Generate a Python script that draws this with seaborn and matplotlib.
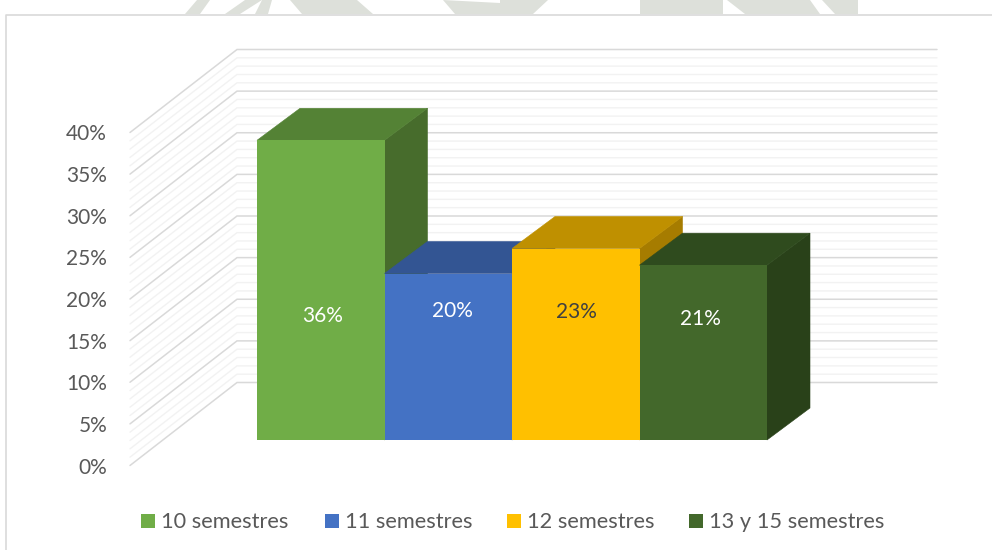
import matplotlib
matplotlib.use('Agg')
import matplotlib.pyplot as plt
import pandas as pd
import seaborn as sns
from matplotlib.patches import Polygon
from matplotlib.ticker import PercentFormatter

categories = ['10 semestres', '11 semestres', '12 semestres', '13 y 15 semestres']
values = [36, 20, 23, 21]
front_colors = ['#70AD47', '#4472C4', '#FFC000', '#43682B']
top_colors = ['#548235', '#335593', '#BF9000', '#2F4B1E']
side_colors = ['#476C2C', '#29447A', '#A67C00', '#294119']
label_colors = ['white', 'white', '#404040', 'white']
y_ticks = list(range(0, 45, 5))
grid_levels = list(range(0, 41))

W, H = 992, 550
# pixels per category / per percentage point, bars start at (257, 440)
px_x, px_y = 127.5, 8.325
x0_px, y0_px = 257, 440

# page watermark showing above the chart frame, rough shapes
watermark = [
    [(185, 14), (200, 14), (210, 0), (197, 0)],
    [(225, 14), (240, 14), (262, 0), (245, 0)],
    [(255, 14), (268, 14), (272, 0), (262, 0)],
    [(302, 14), (373, 14), (357, 0), (290, 0)],
    [(455, 14), (500, 14), (500, 3), (443, 0)],
    [(500, 14), (533, 14), (548, 0), (500, 0)],
    [(640, 14), (723, 14), (723, 0), (640, 0)],
    [(745, 14), (820, 14), (810, 0), (727, 0)],
    [(835, 14), (858, 14), (858, 0), (822, 0)],
]


def dx(px):
    return px / px_x


def dy(px):
    return px / px_y


sns.set_theme(style='white')
plt.rcParams['font.family'] = ['Lato', 'DejaVu Sans']

fig = plt.figure(figsize=(W / 100, H / 100), dpi=100)
ax = fig.add_axes([0, 0, 1, 1])

df = pd.DataFrame({'semestres': categories, 'pct': values})
sns.barplot(
    data=df, x='semestres', y='pct', hue='semestres',
    palette=front_colors, width=1, saturation=1, dodge=False,
    legend=True, ax=ax, linewidth=0,
)

left = -0.5
ax.set_xlim(left - dx(x0_px), left + dx(W - x0_px))
ax.set_ylim(-dy(H - y0_px), dy(y0_px))
ax.axis('off')

# walls of the 3d box
wall_front_x = left - dx(127)
wall_back_x = left - dx(20)
wall_right_x = left + dx(680)
wall_front_y = dy(-25.5)
wall_back_y = dy(57.5)
for level in grid_levels:
    major = level % 5 == 0
    color = '#D9D9D9' if major else '#F2F2F2'
    lw = 1.1 if major else 1.0
    ax.plot([wall_front_x, wall_back_x, wall_right_x],
            [wall_front_y + level, wall_back_y + level, wall_back_y + level],
            color=color, lw=lw, zorder=2 if major else 1, solid_joinstyle='miter')

# side and top faces, left to right so each bar covers the previous one
depth_x, depth_y = dx(43), dy(32)
for i, (val, side, top) in enumerate(zip(values, side_colors, top_colors)):
    r, l = i + 0.5, i - 0.5
    ax.add_patch(Polygon([(r, 0), (r + depth_x, depth_y), (r + depth_x, val + depth_y), (r, val)],
                         closed=True, fc=side, ec=side, lw=0.4, zorder=3 + i * 2))
    ax.add_patch(Polygon([(l, val), (l + depth_x, val + depth_y), (r + depth_x, val + depth_y), (r, val)],
                         closed=True, fc=top, ec=top, lw=0.4, zorder=4 + i * 2))

for i, bar in enumerate(ax.patches[:len(values)]):
    bar.set_zorder(4.5 + i * 2)

# data labels, hand placed in the original
label_x = [322.5, 452, 576, 700.5]
label_y = [316, 311, 312, 319]
for val, lx, ly, c in zip(values, label_x, label_y, label_colors):
    ax.text(left + dx(lx - x0_px), dy(y0_px - ly), f'{val}%', color=c, fontsize=15,
            ha='center', va='center', zorder=20)

# legend
handles, labels = ax.get_legend_handles_labels()
ax.get_legend().remove()
leg_x = [141, 325, 507, 689]
for h, l, lx in zip(handles, labels, leg_x):
    fig.legend([h], [l], loc='center left', bbox_to_anchor=(lx / W, 1 - 522.5 / H),
               frameon=False, fontsize=15.7, handlelength=0.64, handleheight=0.64,
               handletextpad=0.28, labelcolor='#595959', borderpad=0, borderaxespad=0)

# percent axis sits on the front edge of the left wall
tick_ax = fig.add_axes([130 / W, 1 - 465.5 / H, 10 / W, 333 / H], facecolor='none')
tick_ax.set_ylim(0, 40)
tick_ax.set_yticks(y_ticks)
tick_ax.yaxis.set_major_formatter(PercentFormatter(decimals=0))
tick_ax.set_xticks([])
tick_ax.tick_params(axis='y', length=0, pad=16.5, labelsize=15, labelcolor='#595959')
sns.despine(ax=tick_ax, left=True, bottom=True)

# chart frame
fig.add_artist(plt.Line2D([6 / W, 6 / W, 1], [0, 1 - 14.5 / H, 1 - 14.5 / H],
                          color='#D9D9D9', lw=1.2))
for shape in watermark:
    fig.add_artist(Polygon([(x / W, 1 - y / H) for x, y in shape], closed=True,
                           fc='#DDE0DA', ec='none', transform=fig.transFigure))

fig.savefig('out.png', dpi=100)
